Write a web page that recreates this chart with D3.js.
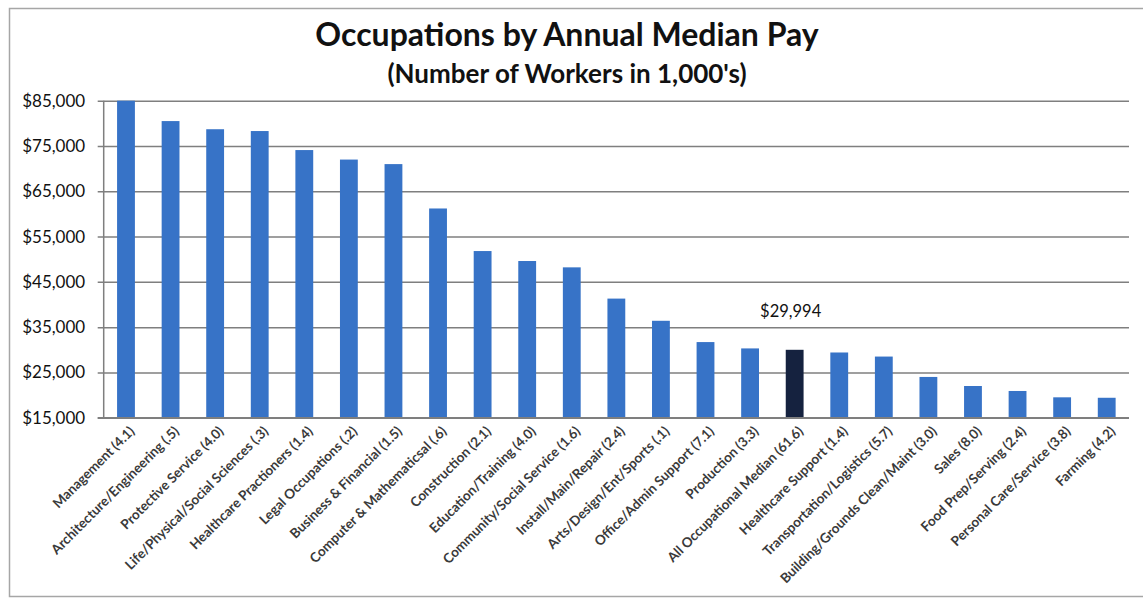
<!DOCTYPE html>
<html>
<head>
<meta charset="utf-8">
<script src="https://cdn.jsdelivr.net/npm/d3@7"></script>
<style>
  html, body { margin: 0; padding: 0; background: #fff; }
  svg { display: block; font-family: Lato, "Open Sans", sans-serif; }
</style>
</head>
<body>
<svg id="chart" width="1143" height="599"></svg>
<script>
// Occupation groups (workers in 1,000's in parentheses)
const categories = [
  "Management (4.1)",
  "Architecture/Engineering (.5)",
  "Protective Service (4.0)",
  "Life/Physical/Social Sciences (.3)",
  "Healthcare Practioners (1.4)",
  "Legal Occupations (.2)",
  "Business & Financial (1.5)",
  "Computer & Mathematicsal (.6)",
  "Construction (2.1)",
  "Education/Training (4.0)",
  "Community/Social Service (1.6)",
  "Install/Main/Repair (2.4)",
  "Arts/Design/Ent/Sports (.1)",
  "Office/Admin Support (7.1)",
  "Production (3.3)",
  "All Occupational Median (61.6)",
  "Healthcare Support (1.4)",
  "Transportation/Logistics (5.7)",
  "Building/Grounds Clean/Maint (3.0)",
  "Sales (8.0)",
  "Food Prep/Serving (2.4)",
  "Personal Care/Service (3.8)",
  "Farming (4.2)"
];

// Annual median pay, dollars
const medianPay = [
  85000, 80500, 78700, 78300, 74100, 72000, 71000, 61200,
  51800, 49600, 48200, 41300, 36400, 31700, 30300, 29994,
  29400, 28500, 24000, 22000, 20900, 19500, 19400
];

// Bar highlighted as the overall median
const highlightCategory = "All Occupational Median (61.6)";

const yTicks = [15000, 25000, 35000, 45000, 55000, 65000, 75000, 85000];

const svg = d3.select("#chart");
const margin = { left: 103.7, right: 1129, top: 100.7, bottom: 417.7 };

// outer frame
svg.append("rect")
  .attr("x", 9.5).attr("y", 8.5)
  .attr("width", 1140).attr("height", 588)
  .attr("fill", "none").attr("stroke", "#a6a6a6").attr("stroke-width", 1.5);

const x = d3.scaleBand()
  .domain(categories)
  .range([margin.left, margin.right])
  .paddingInner(0.6)
  .paddingOuter(0.3);

const y = d3.scaleLinear()
  .domain([15000, 85000])
  .range([margin.bottom, margin.top]);

// gridlines + y axis
const yAxis = d3.axisLeft(y)
  .tickValues(yTicks)
  .tickSize(-(margin.right - margin.left))
  .tickPadding(18.5)
  .tickFormat(d => "$" + d3.format(",")(d));

const gy = svg.append("g")
  .attr("transform", `translate(${margin.left},0)`)
  .call(yAxis);
gy.select(".domain").remove();
gy.selectAll(".tick line")
  .attr("x1", -6)
  .attr("stroke", "#7f7f7f")
  .attr("stroke-width", 1.5);
gy.selectAll(".tick text")
  .attr("font-size", 17)
  .attr("fill", "#111")
  .attr("font-family", "Lato, sans-serif");

// left axis line
svg.append("line")
  .attr("x1", margin.left).attr("x2", margin.left)
  .attr("y1", margin.top).attr("y2", margin.bottom)
  .attr("stroke", "#7f7f7f").attr("stroke-width", 1.5);

// bars
svg.append("g")
  .selectAll("rect")
  .data(categories)
  .join("rect")
  .attr("x", d => x(d))
  .attr("width", x.bandwidth())
  .attr("y", (d, i) => y(medianPay[i]))
  .attr("height", (d, i) => y(15000) - y(medianPay[i]))
  .attr("fill", d => d === highlightCategory ? "#15223f" : "#3773c7");

// x axis line
svg.append("line")
  .attr("x1", margin.left - 6).attr("x2", margin.right)
  .attr("y1", margin.bottom).attr("y2", margin.bottom)
  .attr("stroke", "#7f7f7f").attr("stroke-width", 1.5);

// category labels, rotated
const xAxis = d3.axisBottom(x).tickSize(0).tickPadding(0);
const gx = svg.append("g")
  .attr("transform", `translate(0,${margin.bottom})`)
  .call(xAxis);
gx.select(".domain").remove();
gx.selectAll(".tick text")
  .attr("text-anchor", "end")
  .attr("font-size", 13.5)
  .attr("font-weight", "bold")
  .attr("fill", "#3a3a3a")
  .attr("font-family", "Lato, sans-serif")
  .attr("transform", "translate(6,11) rotate(-45)")
  .attr("dy", "0.35em")
  .attr("y", 0)
  .attr("x", 0);

// value callout for the median bar
const hi = categories.indexOf(highlightCategory);
svg.append("text")
  .attr("x", x(highlightCategory) + x.bandwidth() / 2 - 4)
  .attr("y", y(medianPay[hi]) - 33)
  .attr("text-anchor", "middle")
  .attr("font-size", 16.5)
  .attr("fill", "#111")
  .text("$" + d3.format(",")(medianPay[hi]));

// titles
svg.append("text")
  .attr("x", 567).attr("y", 46)
  .attr("text-anchor", "middle")
  .attr("font-size", 32)
  .attr("font-weight", "bold")
  .attr("fill", "#111")
  .text("Occupations by Annual Median Pay");

svg.append("text")
  .attr("x", 567).attr("y", 83)
  .attr("text-anchor", "middle")
  .attr("font-size", 26)
  .attr("font-weight", "bold")
  .attr("fill", "#111")
  .text("(Number of Workers in 1,000's)");
</script>
</body>
</html>
